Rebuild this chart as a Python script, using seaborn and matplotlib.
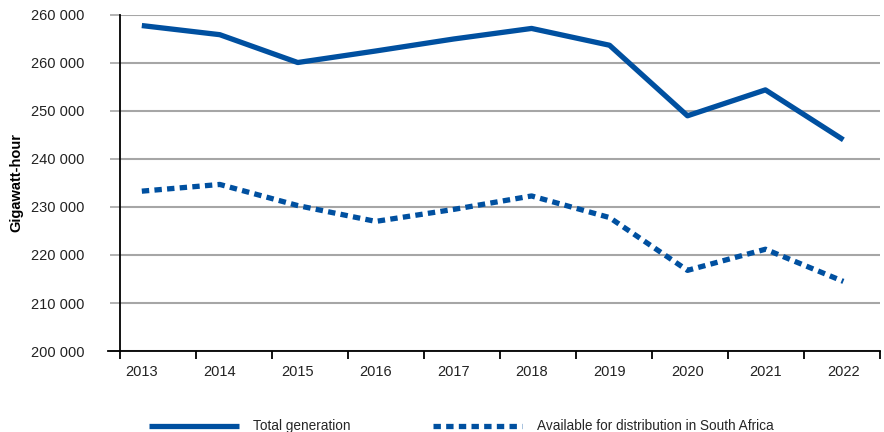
import numpy as np
import pandas as pd
import matplotlib
matplotlib.use("Agg")
import matplotlib.pyplot as plt
import seaborn as sns

years = ["2013", "2014", "2015", "2016", "2017", "2018", "2019", "2020", "2021", "2022"]
total_generation = [267800, 265900, 260100, 262500, 265000, 267200, 263700, 249000, 254400, 244000]
available_sa = [233300, 234700, 230300, 227000, 229500, 232300, 227800, 216800, 221200, 214500]
ytick_values = [200000, 210000, 220000, 230000, 240000, 250000, 260000, 270000]
ytick_labels = ["200 000", "210 000", "220 000", "230 000", "240 000", "250 000", "260 000", "260 000"]

name_total = "Total generation"
name_avail = "Available for distribution in South Africa"

df = pd.DataFrame({
    "pos": list(range(len(years))) * 2,
    "value": total_generation + available_sa,
    "series": [name_total] * len(years) + [name_avail] * len(years),
})

blue = "#0050a0"

sns.set_theme(style="white")
plt.rcParams["font.family"] = ["Liberation Sans", "DejaVu Sans"]

fig = plt.figure(figsize=(8.84, 4.32), dpi=100)
ax = fig.add_axes([120 / 884, 81 / 432, 760 / 884, 336 / 432])

sns.lineplot(data=df, x="pos", y="value", hue="series", style="series",
             palette={name_total: blue, name_avail: blue},
             dashes={name_total: "", name_avail: (1.4, 1.0)},
             linewidth=3.8, ax=ax, legend=True)
for ln in ax.lines:
    ln.set_solid_capstyle("butt")
    ln.set_dash_capstyle("butt")

handles, labels = ax.get_legend_handles_labels()
ax.get_legend().remove()
for h in handles:
    h.set_linewidth(3.8)
    h.set_dash_capstyle("butt")

x0, x1 = -0.28, 9.47
ax.set_xlim(x0, x1)
ax.set_ylim(200000, 270000)

ax.set_yticks(ytick_values)
ax.set_yticklabels(ytick_labels)
ax.set_xticks(range(len(years)))
ax.set_xticklabels(years)
ax.set_xticks(np.linspace(x0, x1, len(years) + 1), minor=True)

ax.grid(axis="y", color="#a6a6a6", linewidth=1.5)
ax.grid(axis="x", visible=False)
ax.set_axisbelow(True)

ax.tick_params(axis="y", which="major", length=7.5, width=1.2, color="#a6a6a6",
               pad=18, labelsize=10.5, labelcolor="#222222", left=True)
ax.tick_params(axis="x", which="major", length=0, pad=10, labelsize=10.5, labelcolor="#222222")
ax.tick_params(axis="x", which="minor", length=6, width=1.3, color="black", bottom=True, direction="out")

for side in ["top", "right"]:
    ax.spines[side].set_visible(False)
for side in ["left", "bottom"]:
    ax.spines[side].set_color("black")
    ax.spines[side].set_linewidth(1.3)
ax.spines["bottom"].set_bounds(x0 - 12 / 78, x1)

ax.set_xlabel("")
ax.set_ylabel("Gigawatt-hour", fontsize=10.5, fontweight="bold", color="black")
ax.yaxis.label.set_va("center")
ax.yaxis.set_label_coords(-0.136, 0.5)

fig.legend(handles, labels, loc="center", bbox_to_anchor=(0.522, 0.013), ncol=2,
           frameon=False, handlelength=6.6, handletextpad=1.1, columnspacing=6.0,
           fontsize=9.8)

fig.savefig("out.png", dpi=100)
